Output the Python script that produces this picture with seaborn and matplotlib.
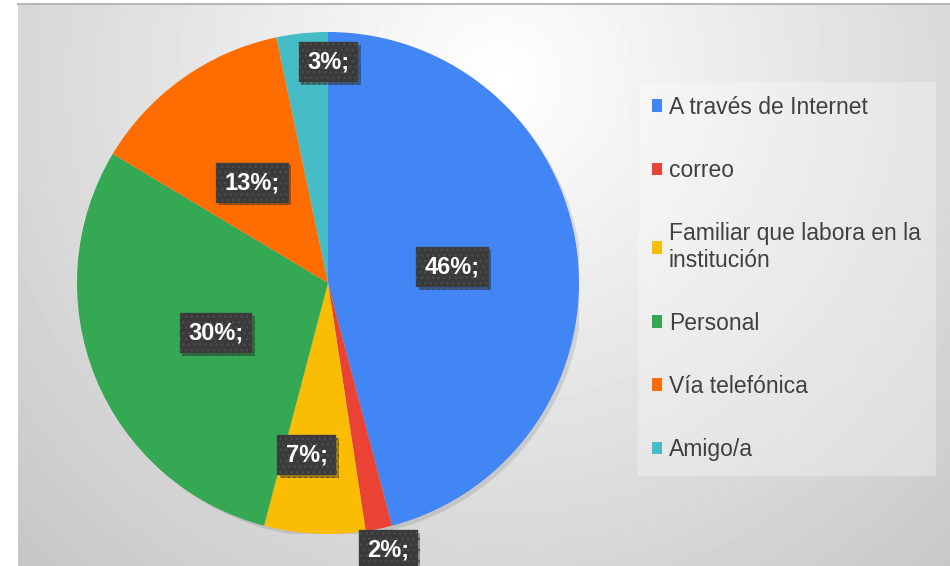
import numpy as np
import seaborn as sns
import matplotlib.pyplot as plt
import matplotlib.patheffects as pe
from matplotlib.patches import Circle

# Datos
categorias = ['A través de Internet', 'correo', 'Familiar que labora en la\ninstitución',
              'Personal', 'Vía telefónica', 'Amigo/a']
porcentajes = [45.9, 1.7, 6.5, 29.5, 13.1, 3.3]
etiquetas = ['46%;', '2%;', '7%;', '30%;', '13%;', '3%;']
colores = ['#4285F4', '#EA4335', '#FBBC04', '#34A853', '#FF6D01', '#46BDC6']

# posición de las etiquetas (distancia radial y ajuste de ángulo)
dist_etiq = [0.5, 1.09, 0.69, 0.49, 0.5, 0.88]
ajuste_ang = [0, 1, -4, 2, 1.5, -6]

sns.set_theme(style='white')
plt.rcParams['font.family'] = ['Liberation Sans', 'DejaVu Sans']

W, H = 950, 566
fig = plt.figure(figsize=(W / 100, H / 100), dpi=100)
fig.patch.set_facecolor('white')

# fondo con degradado radial
bg = fig.add_axes([18 / W, 0, 1 - 18 / W, 1 - 4 / H], zorder=0)
yy, xx = np.mgrid[4:H, 18:W]
d = np.sqrt(((xx - 500) / 520) ** 2 + ((yy - 80) / 520) ** 2)
v = 1 - 0.17 * np.clip(d, 0, 1.3)
bg.imshow(v, cmap='gray', vmin=0, vmax=1, aspect='auto', interpolation='bilinear')
bg.set_xticks([])
bg.set_yticks([])
for s in ['left', 'right', 'bottom']:
    bg.spines[s].set_visible(False)
bg.spines['top'].set_color('#b8b8b8')
bg.spines['top'].set_linewidth(1.5)

# pastel
cx, cy, r = 328, 283, 251
ax = fig.add_axes([(cx - r) / W, (H - cy - r) / H, 2 * r / W, 2 * r / H], zorder=1)
ax.set_facecolor('none')
sombra = Circle((0.015, -0.015), 1.0, facecolor='black', alpha=0.10, zorder=0)
ax.add_patch(sombra)
wedges, _ = ax.pie(porcentajes, colors=colores, startangle=90, counterclock=False,
                   radius=1, wedgeprops=dict(linewidth=0))
ax.set_xlim(-1, 1)
ax.set_ylim(-1, 1)
ax.set_aspect('equal')
ax.axis('off')

for w, txt, dd, da in zip(wedges, etiquetas, dist_etiq, ajuste_ang):
    ang = np.deg2rad((w.theta1 + w.theta2) / 2 + da)
    t = ax.text(dd * np.cos(ang), dd * np.sin(ang), txt, ha='center', va='center',
                fontsize=17, fontweight='bold', color='white', zorder=5,
                bbox=dict(boxstyle='square,pad=0.36', facecolor='#3a3a3a',
                          edgecolor='#4c4c4c', linewidth=0.3, hatch='...'))
    t.get_bbox_patch().set_path_effects([pe.withSimplePatchShadow(offset=(2, -2), alpha=0.35)])

leg = fig.legend(wedges, categorias, loc='upper left',
                 bbox_to_anchor=(638 / W, 1 - 82 / H), borderaxespad=0,
                 fontsize=16.5, labelspacing=1.75, handlelength=0.45, handleheight=0.45,
                 handletextpad=0.3, borderpad=0.6, frameon=True, fancybox=False,
                 facecolor='white', framealpha=0.3, edgecolor='#f0f0f0')
for t in leg.get_texts():
    t.set_color('#404040')
leg.set_zorder(3)

fig.savefig('out.png', dpi=100)
